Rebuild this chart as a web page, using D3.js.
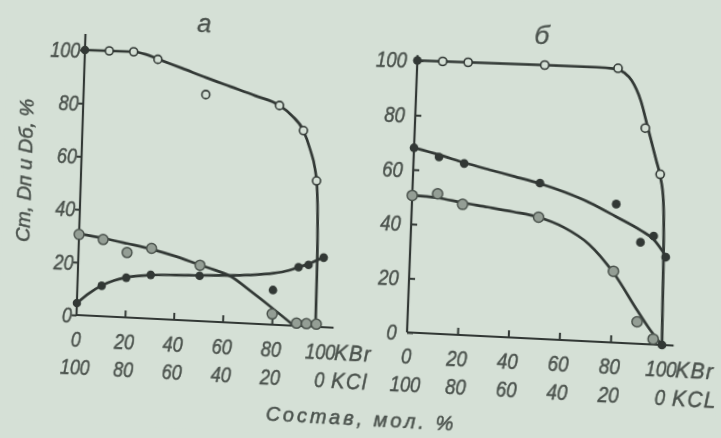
<!DOCTYPE html>
<html>
<head>
<meta charset="utf-8">
<script src="https://cdn.jsdelivr.net/npm/d3@7"></script>
<style>
body { margin: 0; background: #d5e0d6; }
svg { display: block; overflow: visible; background: #d5e0d6; }
text { font-style: italic; fill: #4b524d; stroke: #4b524d; stroke-width: 0.5px; font-family: "Liberation Sans", sans-serif; }
.num { font-size: 23px; }
.unit { font-size: 22px; letter-spacing: 1.5px; }
.ttl { font-size: 20px; }
.panel-title { font-size: 26px; stroke-width: 0.3px; }
</style>
</head>
<body>
<svg id="chart" width="721" height="438"></svg>
<script>
var X_TICKS = [0, 20, 40, 60, 80, 100];
var X_TICKS_KCL = [100, 80, 60, 40, 20, 0];
var Y_TICKS = [0, 20, 40, 60, 80, 100];
var INNER_X_TICKS = [20, 40, 60, 80];

// panel а
var aCtPoints = [[10,100],[20,100],[30,97.5],[50,85],[80,82],[90,73],[96,54.5]];
var aCtCurve = [[0,100],[10,100],[20,100],[25,99.2],[30,97.6],[40,94.5],[50,91.3],[60,88.3],[70,85.3],[80,82],[85,78.5],[90,73],[93,66],[95.2,59],[96.3,52],[97,40],[97.5,20],[97.7,0]];
var aDnPoints = [[0,4.5],[10,11.5],[20,15],[30,16.5],[50,17],[80,13],[90,22],[94,23],[100,26]];
var aDnCurve = [[0,4.5],[5,8.5],[10,11.6],[15,13.7],[20,15.1],[30,16.4],[40,16.9],[50,17.2],[60,17.6],[70,18.2],[80,19.3],[86,20.6],[90,22],[95,23.8],[100,26.2]];
var aDbPoints = [[0,30.5],[10,29],[20,24.5],[30,26.5],[50,21],[80,4],[90,1],[94,1],[98,1]];
var aDbCurve = [[0,30.8],[10,29.5],[20,27.9],[30,26.2],[40,23.9],[50,21.1],[56,19.5],[63,17.2],[70,12.8],[80,6.2],[89,0]];
var aEndDots = [[0,100]];

// panel б
var bCtPoints = [[10,100],[20,100],[50,100],[78.5,99.8],[90,78.5],[96.5,62]];
var bCtCurve = [[0,100],[20,100],[50,100],[70,99.9],[77,99.6],[81,98.3],[84,95.5],[87.8,88.4],[91,78.6],[94.8,66.8],[96.5,61.5],[98.2,52],[99.2,30],[99.7,10],[100,0]];
var bDnPoints = [[0,68],[10,65],[20,63],[50,57],[80,50.5],[90,37],[95,39.5],[100,32]];
var bDnCurve = [[0,68],[10,65.8],[20,63.3],[30,61.1],[40,59],[50,56.8],[60,54],[70,50.5],[80,46],[90,41.3],[95,38.3],[100,32.5]];
var bDbPoints = [[0,50.5],[10,51.5],[20,48],[50,44.5],[80,26],[90,8],[96.5,2]];
var bDbCurve = [[0,50.5],[10,50],[20,48.6],[30,47.4],[40,46.1],[50,44.5],[60,41.2],[70,35.5],[80,25.5],[90,12],[95,5.5],[100,0]];
var bEndDots = [[0,100],[100,0]];

var INK = "#323935";
var BG = "#d5e0d6";
var GRAY = "#949e95";
var NARROW = "scale(0.8,1)";

var panels = [
    {title: "а", left: 80, right: 329, bottom: 329, top: 63, yEnd: 106, xEnd: 105,
     yTick: 5, yPad: 1, kcl: "KCl",
     ct: aCtCurve, dn: aDnCurve, db: aDbCurve,
     ctPts: aCtPoints, dnPts: aDnPoints, dbPts: aDbPoints, dots: aEndDots},
    {title: "б", left: 415, right: 666, bottom: 330, top: 61.5, yEnd: 102, xEnd: 104.5,
     yTick: -6, yPad: 13, kcl: "KCL",
     ct: bCtCurve, dn: bDnCurve, db: bDbCurve,
     ctPts: bCtPoints, dnPts: bDnPoints, dbPts: bDbPoints, dots: bEndDots}
];

var svg = d3.select("#chart");

// soften a little, like the photographed print
svg.append("defs").append("filter").attr("id", "soft")
    .append("feGaussianBlur").attr("stdDeviation", 0.4);

var root = svg.append("g").attr("filter", "url(#soft)");

panels.forEach(function (p) { drawPanel(root, p); });

root.append("text")
    .attr("class", "ttl")
    .attr("x", 372).attr("y", 425)
    .attr("text-anchor", "middle")
    .style("letter-spacing", "3px")
    .text("Состав, мол. %");

root.append("text")
    .attr("class", "ttl")
    .attr("transform", "translate(29,186) rotate(-90)")
    .attr("text-anchor", "middle")
    .text("Ст, Dп и Dб, %");

// the photographed page is slightly skewed: warp the flat drawing onto it
var h = homography(
    [[80, 62], [80, 329], [666, 330], [539, 60]],
    [[85, 49], [76.5, 315], [662, 345], [543.3, 63.5]]
);
svg.style("transform-origin", "0 0")
   .style("transform", "matrix3d(" + [h[0], h[3], 0, h[6], h[1], h[4], 0, h[7], 0, 0, 1, 0, h[2], h[5], 0, 1].join(",") + ")");


function drawPanel(svg, p)
{
    var x = d3.scaleLinear().domain([0, 100]).range([p.left, p.right]);
    var y = d3.scaleLinear().domain([0, 100]).range([p.bottom, p.top]);
    var g = svg.append("g");

    var xAxis = d3.axisBottom(x).tickValues(INNER_X_TICKS).tickSize(-7).tickSizeOuter(0).tickFormat("");
    g.append("g")
        .attr("transform", "translate(0," + y(0) + ")")
        .call(xAxis)
        .call(function (a) { a.select(".domain").remove(); })
        .selectAll("line").attr("stroke", INK).attr("stroke-width", 2);

    var yAxis = d3.axisLeft(y).tickValues(Y_TICKS).tickSize(p.yTick).tickSizeOuter(0).tickPadding(p.yPad);
    var ya = g.append("g")
        .attr("transform", "translate(" + x(0) + ",0)")
        .call(yAxis);
    ya.select(".domain").remove();
    ya.selectAll("line").attr("stroke", INK).attr("stroke-width", 2);
    ya.selectAll("text")
        .attr("class", "num").attr("font-size", null).attr("font-family", null).attr("fill", null)
        .attr("transform", NARROW);

    // frame lines
    g.append("line")
        .attr("x1", x(0)).attr("y1", y(0)).attr("x2", x(p.xEnd)).attr("y2", y(0))
        .attr("stroke", INK).attr("stroke-width", 2.2);
    g.append("line")
        .attr("x1", x(0)).attr("y1", y(0)).attr("x2", x(0)).attr("y2", y(p.yEnd))
        .attr("stroke", INK).attr("stroke-width", 2.2);

    // two rows of composition labels
    g.selectAll(".kbr").data(X_TICKS).join("text")
        .attr("class", "num")
        .attr("transform", function (d) { return "translate(" + x(d) + ",361) " + NARROW; })
        .attr("text-anchor", "middle")
        .text(function (d) { return d; });
    g.selectAll(".kcl").data(X_TICKS_KCL).join("text")
        .attr("class", "num")
        .attr("transform", function (d, i) { return "translate(" + x(X_TICKS[i]) + ",389) " + NARROW; })
        .attr("text-anchor", "middle")
        .text(function (d) { return d; });
    g.append("text").attr("class", "unit")
        .attr("transform", "translate(" + (x(100) + 14) + ",361) scale(0.92,1)").text("KBr");
    g.append("text").attr("class", "unit")
        .attr("transform", "translate(" + (x(100) + 12) + ",389) scale(0.92,1)").text(p.kcl);

    g.append("text").attr("class", "panel-title")
        .attr("x", (x(0) + x(100)) / 2 - 4).attr("y", 41)
        .attr("text-anchor", "middle")
        .text(p.title);

    var line = d3.line()
        .x(function (d) { return x(d[0]); })
        .y(function (d) { return y(d[1]); })
        .curve(d3.curveMonotoneX);

    [p.ct, p.dn, p.db].forEach(function (c) {
        g.append("path").attr("d", line(c))
            .attr("fill", "none").attr("stroke", INK).attr("stroke-width", 2.7)
            .attr("stroke-linejoin", "round");
    });

    g.selectAll(".db").data(p.dbPts).join("circle")
        .attr("cx", function (d) { return x(d[0]); })
        .attr("cy", function (d) { return y(d[1]); })
        .attr("r", 5)
        .attr("fill", GRAY).attr("stroke", "#4b534d").attr("stroke-width", 1.5);

    g.selectAll(".ct").data(p.ctPts).join("circle")
        .attr("cx", function (d) { return x(d[0]); })
        .attr("cy", function (d) { return y(d[1]); })
        .attr("r", 4)
        .attr("fill", BG).attr("stroke", INK).attr("stroke-width", 1.6);

    g.selectAll(".dn").data(p.dnPts.concat(p.dots)).join("circle")
        .attr("cx", function (d) { return x(d[0]); })
        .attr("cy", function (d) { return y(d[1]); })
        .attr("r", 4.3)
        .attr("fill", INK);
}

function homography(src, dst)
{
    var A = [], b = [], n = 8, i, r, k;
    for (i = 0; i < 4; i++) {
        var u = src[i][0], v = src[i][1], X = dst[i][0], Y = dst[i][1];
        A.push([u, v, 1, 0, 0, 0, -u * X, -v * X]); b.push(X);
        A.push([0, 0, 0, u, v, 1, -u * Y, -v * Y]); b.push(Y);
    }
    for (var c = 0; c < n; c++) {
        var piv = c;
        for (r = c + 1; r < n; r++) if (Math.abs(A[r][c]) > Math.abs(A[piv][c])) piv = r;
        var t = A[c]; A[c] = A[piv]; A[piv] = t;
        t = b[c]; b[c] = b[piv]; b[piv] = t;
        for (r = c + 1; r < n; r++) {
            var f = A[r][c] / A[c][c];
            for (k = c; k < n; k++) A[r][k] -= f * A[c][k];
            b[r] -= f * b[c];
        }
    }
    var hh = new Array(n);
    for (r = n - 1; r >= 0; r--) {
        var s = b[r];
        for (k = r + 1; k < n; k++) s -= A[r][k] * hh[k];
        hh[r] = s / A[r][r];
    }
    return hh;
}
</script>
</body>
</html>
